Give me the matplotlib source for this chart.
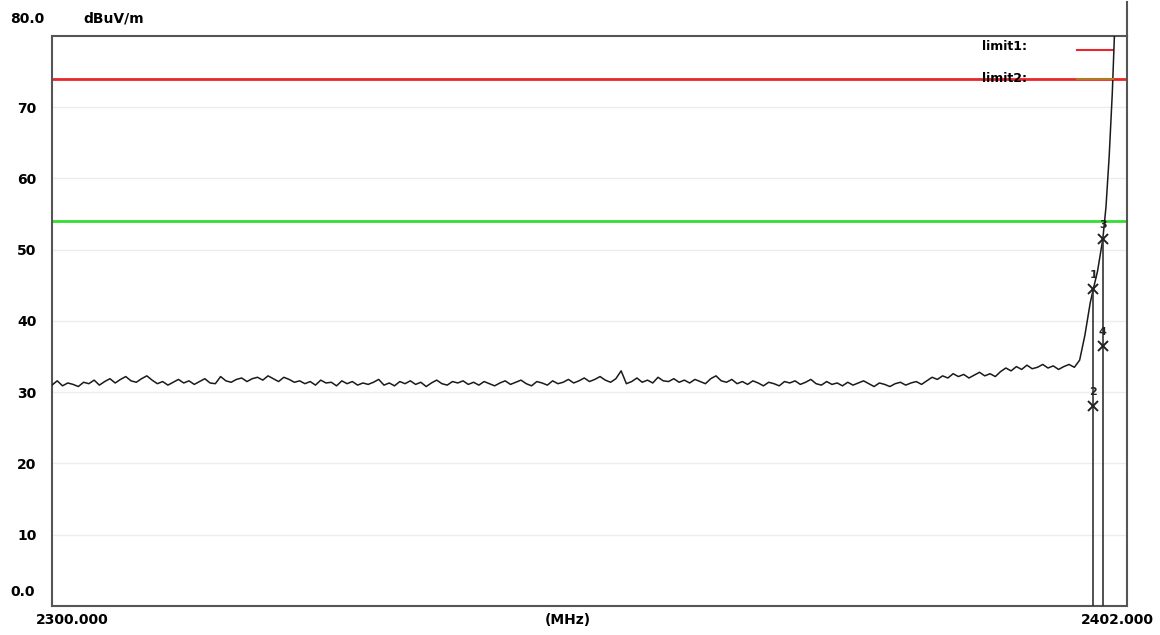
import numpy as np
import matplotlib.pyplot as plt
from matplotlib.lines import Line2D

# ---------------- data ----------------
f_start = 2300.0
f_stop = 2402.0

# noise floor, one value every 0.5 MHz from 2300 to 2397
noise = [
    31.0, 31.6, 30.9, 31.3, 31.1, 30.8, 31.4, 31.2, 31.7, 31.0, 31.5, 31.9, 31.3, 31.8, 32.2, 31.6, 31.4, 31.9, 32.3, 31.7,
    31.2, 31.5, 31.0, 31.4, 31.8, 31.3, 31.6, 31.1, 31.5, 31.9, 31.3, 31.2, 32.2, 31.6, 31.4, 31.8, 32.0, 31.5, 31.9, 32.1,
    31.7, 32.3, 31.9, 31.5, 32.1, 31.8, 31.4, 31.6, 31.2, 31.5, 31.0, 31.7, 31.3, 31.4, 30.9, 31.6, 31.2, 31.5, 31.0, 31.3,
    31.1, 31.4, 31.8, 31.0, 31.3, 30.9, 31.5, 31.2, 31.6, 31.1, 31.4, 30.8, 31.3, 31.7, 31.2, 31.0, 31.5, 31.3, 31.6, 31.1,
    31.4, 31.0, 31.5, 31.2, 30.9, 31.3, 31.6, 31.1, 31.4, 31.7, 31.2, 30.9, 31.5, 31.3, 31.0, 31.6, 31.2, 31.4, 31.8, 31.3,
    31.6, 32.0, 31.5, 31.8, 32.2, 31.7, 31.4, 31.9, 33.0, 31.2, 31.5, 32.0, 31.4, 31.7, 31.3, 32.1, 31.6, 31.5, 31.9, 31.4,
    31.7, 31.3, 31.8, 31.5, 31.2, 31.9, 32.3, 31.6, 31.4, 31.8, 31.2, 31.5, 31.1, 31.6, 31.3, 30.9, 31.4, 31.2, 30.9, 31.5,
    31.3, 31.6, 31.1, 31.4, 31.8, 31.2, 31.0, 31.5, 31.1, 31.3, 30.9, 31.4, 31.0, 31.3, 31.6, 31.2, 30.8, 31.3, 31.1, 30.8,
    31.2, 31.4, 31.0, 31.3, 31.5, 31.1, 31.6, 32.1, 31.8, 32.3, 32.0, 32.6, 32.2, 32.5, 32.0, 32.4, 32.8, 32.3, 32.6, 32.2,
    32.9, 33.4, 33.0, 33.6, 33.2, 33.8, 33.3, 33.5, 33.9, 33.4, 33.7, 33.2, 33.6, 33.9, 33.5,
]
# band edge rise
edge_freq = [2397.5, 2398.0, 2398.5, 2398.8, 2399.2, 2399.7, 2400.0, 2400.3, 2400.6, 2400.8]
edge_level = [34.5, 38.0, 42.5, 44.5, 47.0, 51.5, 56.0, 63.0, 72.0, 80.0]

limit1 = 74.0
limit2 = 54.0

mk_freq = [2398.8, 2398.8, 2399.7, 2399.7]
mk_level = [44.5, 28.0, 51.5, 36.5]
mk_name = ['1', '2', '3', '4']

y_ticks = [10, 20, 30, 40, 50, 60, 70]

# ---------------- plot ----------------
freq = list(f_start + 0.5 * np.arange(len(noise))) + edge_freq
level = noise + edge_level

plt.rcParams['font.family'] = ['DejaVu Sans']
fig = plt.figure(figsize=(11.6, 6.35), dpi=100)
ax = fig.add_axes([0.0448, 0.0457, 0.9268, 0.8976])

ax.set_xlim(f_start, f_stop)
ax.set_ylim(0, 80)

for y in y_ticks:
    ax.axhline(y, color='#ececec', lw=1, zorder=0)

ax.axhline(limit1, color='#e8262b', lw=2, zorder=2)
ax.axhline(limit2, color='#33dd33', lw=2, zorder=2)

ax.plot(freq, level, color='#1a1a1a', lw=1.1, zorder=3)

ax.vlines([mk_freq[0], mk_freq[2]], 0, [mk_level[0], mk_level[2]], color='#333333', lw=1.2, zorder=3)
for f, v, n in zip(mk_freq, mk_level, mk_name):
    ax.plot(f, v, marker='x', color='#222222', ms=7, mew=1.4, zorder=4)
    ax.text(f, v + 1.3, n, ha='center', va='bottom', fontsize=8, fontweight='bold', color='#222222')

# legend drawn by hand
ax.text(0.865, 0.982, 'limit1:', transform=ax.transAxes, fontsize=9, fontweight='bold', va='center')
ax.text(0.865, 0.926, 'limit2:', transform=ax.transAxes, fontsize=9, fontweight='bold', va='center')
ax.add_line(Line2D([0.953, 0.987], [0.975, 0.975], transform=ax.transAxes, color='#e8262b', lw=1.5))
ax.add_line(Line2D([0.953, 0.987], [0.925, 0.925], transform=ax.transAxes, color='#b07a20', lw=1.5, zorder=5))

for s in ax.spines.values():
    s.set_color('#555555')
    s.set_linewidth(1.5)
ax.plot([1, 1], [1, 1.06], transform=ax.transAxes, color='#555555', lw=1.5, clip_on=False)

ax.set_yticks(y_ticks)
ax.set_yticklabels([str(t) for t in y_ticks], fontsize=10, fontweight='bold')
ax.tick_params(axis='y', length=0, pad=11)
ax.set_xticks([])

ax.text(-0.016, 0.024, '0.0', transform=ax.transAxes, ha='right', va='center', fontsize=10, fontweight='bold')
ax.text(-0.007, 1.03, '80.0', transform=ax.transAxes, ha='right', va='center', fontsize=10, fontweight='bold')
ax.text(0.057, 1.03, 'dBuV/m', transform=ax.transAxes, ha='center', va='center', fontsize=10, fontweight='bold')
ax.text(0.019, -0.025, '2300.000', transform=ax.transAxes, ha='center', va='center', fontsize=10, fontweight='bold')
ax.text(0.48, -0.025, '(MHz)', transform=ax.transAxes, ha='center', va='center', fontsize=10, fontweight='bold')
ax.text(0.991, -0.025, '2402.000', transform=ax.transAxes, ha='center', va='center', fontsize=10, fontweight='bold')

fig.savefig('out.png', dpi=100)
